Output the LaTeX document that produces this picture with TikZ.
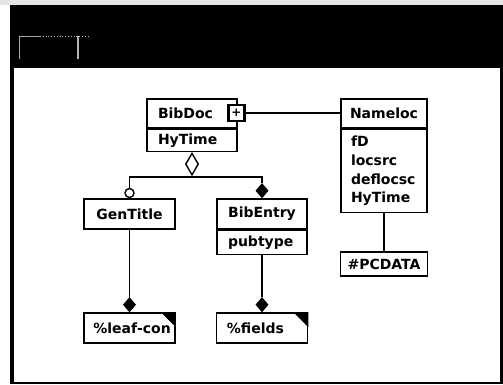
\documentclass[tikz,border=0pt]{standalone}
\usepackage{fontspec}
\setmainfont{DejaVu Sans}
\usetikzlibrary{shapes.geometric}
\begin{document}
\begin{tikzpicture}[x=1pt,y=-1pt,
  umlbox/.style={draw, line width=1.6pt, fill=white, inner sep=0pt, font=\bfseries\fontsize{14}{18.7}\selectfont},
  attrbox/.style={umlbox, align=left, inner xsep=11pt},
  txt/.style={inner sep=0pt, font=\bfseries\fontsize{14}{18.7}\selectfont},
  conn/.style={line width=1.4pt},
  hollowdia/.style={draw, shape=diamond, fill=white, line width=1.4pt, inner sep=0pt, minimum width=13pt, minimum height=22pt},
  soliddia/.style={draw, shape=diamond, fill=black, line width=1pt, inner sep=0pt, minimum width=12pt, minimum height=14pt},
  hollowcirc/.style={draw, circle, fill=white, line width=1.4pt, inner sep=0pt, minimum size=9pt},
  plusbox/.style={draw, line width=2.6pt, fill=white, minimum size=16pt, inner sep=0pt, font=\bfseries\fontsize{12}{12}\selectfont}
]
% window
\fill[white] (0,0) rectangle (503,384);
\fill[gray!20] (0,0) rectangle (503,5);
\fill[black] (10,5) rectangle (503,384);
\fill[white] (14,68) rectangle (500,382);
\useasboundingbox (0,0) rectangle (503,384);
\draw[gray!70, line width=1pt] (19,59) -- (19,36) -- (40,36);
\draw[gray!50, line width=0.8pt, dotted] (40,36) -- (88,36);
\draw[gray!60, line width=1.2pt] (78,36) -- (78,59);

% BibDoc
\node[attrbox, text width=68pt, minimum width=90pt, minimum height=29pt] (bibdoc) at (192,113.5) {BibDoc};
\node[attrbox, text width=68pt, minimum width=90pt, minimum height=22pt, anchor=north] (bibattr) at (bibdoc.south) {HyTime};
\node[plusbox] (plus) at (236.5,113) {+};

% Nameloc
\node[umlbox, minimum width=86pt, minimum height=29pt] (nameloc) at (384,113.5) {Nameloc};
\node[attrbox, inner xsep=10pt, text width=66pt, minimum width=86pt, minimum height=83pt, anchor=north] (nameattr) at (nameloc.south) {fD\\locsrc\\deflocsc\\HyTime};
\node[umlbox, minimum width=87pt, minimum height=24pt] (pcdata) at (384,264) {\#PCDATA};

% GenTitle, BibEntry
\node[umlbox, minimum width=91pt, minimum height=30pt] (gentitle) at (129.5,214) {GenTitle};
\node[umlbox, minimum width=90pt, minimum height=30pt] (bibentry) at (262,214) {BibEntry};
\node[attrbox, text width=68pt, minimum width=90pt, minimum height=24pt, anchor=north] (entattr) at (bibentry.south) {pubtype};

% leaf boxes
\node[umlbox, minimum width=91pt, minimum height=30pt] (leaf) at (129.5,328) {};
\node[umlbox, minimum width=91pt, minimum height=30pt] (fields) at (262,328) {};
\fill (leaf.north east) -- ++(-15,0) -- ++(15,15) -- cycle;
\fill (fields.north east) -- ++(-15,0) -- ++(15,15) -- cycle;
\begin{scope}
\clip (leaf.south west) rectangle (leaf.north east);
\node[txt, anchor=west] (leaftxt) at ([xshift=10pt]leaf.west) {\%leaf-con};
\end{scope}
\node[txt, anchor=west] (fieldstxt) at ([xshift=11pt]fields.west) {\%fields};

% connector ends
\node[hollowdia, anchor=north] (agg) at (bibattr.south) {};
\coordinate (j) at (192,177);
\node[hollowcirc, anchor=south] (genc) at (gentitle.north) {};
\node[soliddia, anchor=south] (entd) at (bibentry.north) {};
\node[soliddia, anchor=south] (leafd) at (leaf.north) {};
\node[soliddia, anchor=south] (fieldsd) at (fields.north) {};

% connectors
\draw[conn] (agg.south) -- (j);
\draw[conn] (genc.north) |- (j) -| (entd.north);
\draw[conn] (gentitle.south) -- (leafd.north);
\draw[conn] (entattr.south) -- (fieldsd.north);
\draw[conn] (nameattr.south) -- (pcdata.north);
\draw[conn] (plus.east) -- (plus.east -| nameloc.west);
\end{tikzpicture}
\end{document}
